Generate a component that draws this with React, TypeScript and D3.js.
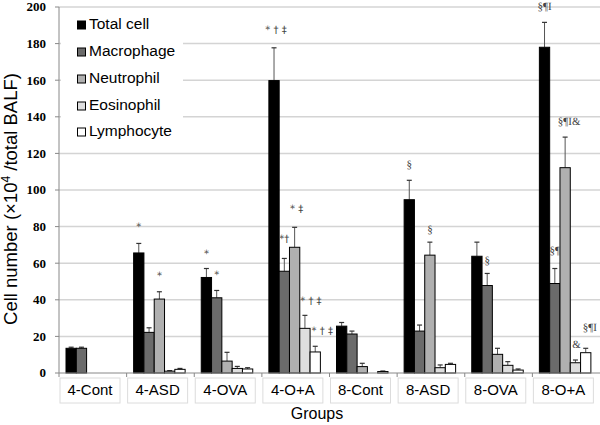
import React from "react";
import * as d3 from "d3";

const groups = ["4-Cont", "4-ASD", "4-OVA", "4-O+A", "8-Cont", "8-ASD", "8-OVA", "8-O+A"];
const seriesNames = ["Total cell", "Macrophage", "Neutrophil", "Eosinophil", "Lymphocyte"];
const seriesColors = ["#000000", "#6b6b6b", "#b0b0b0", "#dedede", "#ffffff"];

const totalVals = [13.5, 65.6, 52.2, 159.8, 25.6, 94.7, 63.8, 178];
const totalErr = [0.6, 5.2, 4.9, 17.9, 2.0, 10.6, 7.7, 13.6];
const macVals = [13.5, 22.2, 41.1, 55.6, 21.3, 22.9, 47.8, 48.9];
const macErr = [0.6, 2.5, 4.0, 7.0, 1.6, 3.3, 6.6, 8.2];
const neutVals = [0, 40.4, 6.5, 68.7, 3.5, 64.4, 10.2, 112.2];
const neutErr = [0, 4.0, 4.8, 10.9, 1.8, 7.1, 3.3, 16.7];
const eosVals = [0, 1.0, 2.5, 24.4, 0, 2.9, 4.2, 5.6];
const eosErr = [0, 0.3, 1.1, 7.1, 0, 1.5, 2.0, 1.5];
const lymphVals = [0, 2.0, 2.2, 11.5, 0.8, 4.7, 1.6, 11.1];
const lymphErr = [0, 0.5, 0.7, 3.1, 0.3, 0.6, 0.6, 2.4];

const values = [totalVals, macVals, neutVals, eosVals, lymphVals];
const errors = [totalErr, macErr, neutErr, eosErr, lymphErr];

const yTicks = [0, 20, 40, 60, 80, 100, 120, 140, 160, 180, 200];

// annotations: group index, series index, label
const annGroup = [1, 1, 2, 2, 3, 3, 3, 3, 3, 5, 5, 6, 7, 7, 7, 7, 7];
const annSeries = [0, 2, 0, 1, 0, 1, 2, 3, 4, 0, 2, 1, 0, 1, 2, 3, 4];
const annText = ["*", "*", "*", "*", "* † ‡", "*†", "* ‡", "* † ‡", "* † ‡", "§", "§", "§", "§¶I", "§¶", "§¶I&", "&", "§¶I"];
const annDx = [0, 0, 0, 0, 2, 0, 2, 6, 7, 0, 0, 0, 0, 0, 4, 1, 4];
const annDy = [16, 15, 14, 15, 18, 19, 18, 14, 15, 15, 12, 12, 15, 17, 15, 15, 20];

export default function App() {
  const W = 600, H = 425;
  const left = 59, right = 600, top = 7, bottom = 373;

  const x = d3.scaleBand<string>().domain(groups).range([left, right]).paddingInner(0).paddingOuter(0);
  const xs = d3.scaleBand<string>().domain(seriesNames).range([7, 7 + 51.5]).padding(0);
  const y = d3.scaleLinear().domain([0, 200]).range([bottom, top]);

  const legendY = [25, 52, 79, 106, 132];

  return (
    <svg width={W} height={H} style={{ position: "absolute", left: 0, top: 0, background: "#fff" }}
      fontFamily="'Liberation Sans', Arial, sans-serif">
      <rect x={0} y={0} width={W} height={H} fill="#fff" />
      {yTicks.filter(t => t > 0).map(t => (
        <line key={t} x1={left} x2={right} y1={y(t)} y2={y(t)} stroke="#d4d4d4" strokeWidth={1.5} />
      ))}
      <rect x={61} y={12} width={122} height={134} fill="#fff" />
      {groups.map((g, gi) => (
        <g key={g} transform={`translate(${x(g)},0)`}>
          {seriesNames.map((s, si) => {
            const v = values[si][gi];
            if (v <= 0) return null;
            const bx = xs(s)!;
            const bw = xs.bandwidth();
            const e = errors[si][gi];
            const cx = bx + bw / 2;
            return (
              <g key={s}>
                <line x1={cx} x2={cx} y1={y(v)} y2={y(v + e)} stroke="#555" strokeWidth={1} />
                <line x1={cx - 2.5} x2={cx + 2.5} y1={y(v + e)} y2={y(v + e)} stroke="#333" strokeWidth={1.2} />
                <rect x={bx} y={y(v)} width={bw} height={y(0) - y(v)} fill={seriesColors[si]} stroke="#000" strokeWidth={1} />
              </g>
            );
          })}
        </g>
      ))}
      {annText.map((t, i) => {
        const gi = annGroup[i], si = annSeries[i];
        const cx = x(groups[gi])! + xs(seriesNames[si])! + xs.bandwidth() / 2 + annDx[i];
        const ty = y(values[si][gi] + errors[si][gi]) - annDy[i];
        const isSans = /[*†‡]/.test(t);
        return (
          <text key={i} x={cx} y={ty} textAnchor="middle" dominantBaseline="middle"
            fontSize={isSans ? 10 : 11}
            fontFamily={isSans ? "'DejaVu Sans', sans-serif" : "'Liberation Serif', 'Times New Roman', serif"}
            fill="#444" style={{ textRendering: "geometricPrecision" }}>{t}</text>
        );
      })}
      <line x1={left} x2={left} y1={top} y2={bottom} stroke="#888" strokeWidth={1} />
      <line x1={left} x2={right} y1={bottom} y2={bottom} stroke="#888" strokeWidth={1} />
      {yTicks.map(t => (
        <g key={t}>
          <line x1={left - 4} x2={left} y1={y(t)} y2={y(t)} stroke="#888" />
          <text x={46} y={y(t) + 1.5} textAnchor="end" dominantBaseline="middle" fontSize={13} fontWeight="bold"
            fontFamily="'Liberation Serif', 'Times New Roman', serif" fill="#000">{t}</text>
        </g>
      ))}
      {groups.map(g => (
        <line key={g} x1={x(g)!} x2={x(g)!} y1={bottom} y2={bottom + 4} stroke="#888" />
      ))}
      {groups.map(g => (
        <g key={g}>
          <rect x={x(g)! + 1} y={378} width={60} height={25} fill="#fff" stroke="#dcdcdc" strokeWidth={1} />
          <text x={x(g)! + 31} y={391} textAnchor="middle" dominantBaseline="middle" fontSize={15} fill="#000">{g}</text>
        </g>
      ))}
      <text x={317} y={415} textAnchor="middle" dominantBaseline="middle" fontSize={16} fill="#000">Groups</text>
      <text transform={`translate(17,199) rotate(-90)`} textAnchor="middle" fontSize={18.5} fill="#000">
        Cell number (×10<tspan fontSize={12} dy={-7}>4</tspan><tspan dy={7}> /total BALF)</tspan>
      </text>
      {seriesNames.map((s, i) => (
        <g key={s}>
          <rect x={77.5} y={legendY[i] - 4} width={8} height={8} fill={seriesColors[i]} stroke="#000" strokeWidth={1} />
          <text x={89} y={legendY[i]} dominantBaseline="middle" fontSize={15.5} fill="#000">{s}</text>
        </g>
      ))}
    </svg>
  );
}
